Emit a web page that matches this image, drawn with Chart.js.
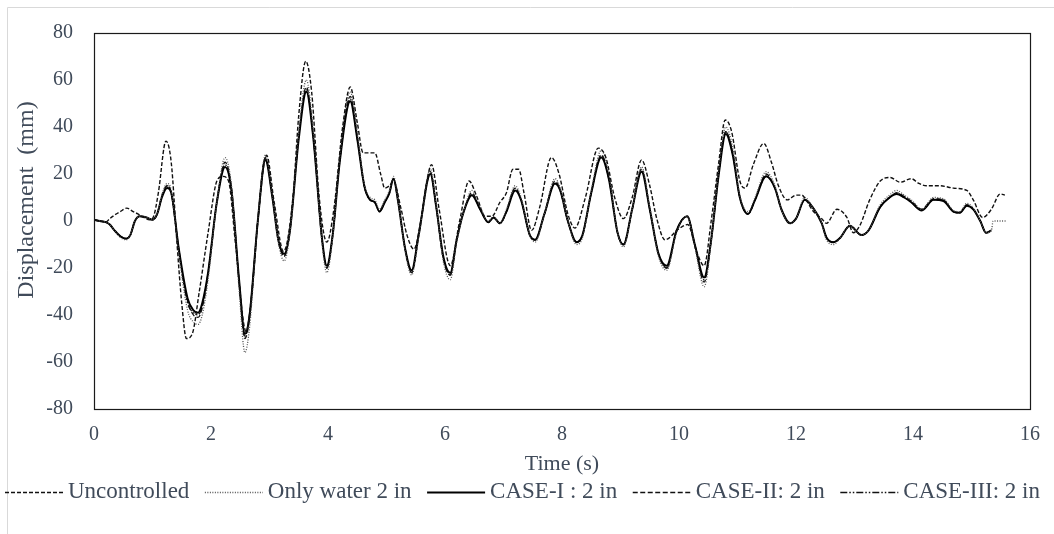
<!DOCTYPE html>
<html>
<head>
<meta charset="utf-8">
<script src="https://cdn.jsdelivr.net/npm/chart.js@4/dist/chart.umd.min.js"></script>
<style>
  html, body { margin: 0; padding: 0; background: #fff; }
  #wrap { position: relative; width: 1054px; height: 534px; }
</style>
</head>
<body>
<div id="wrap"><canvas id="c" width="1054" height="534"></canvas></div>
<script>
// ---- Data ----
const xTicks = [0, 2, 4, 6, 8, 10, 12, 14, 16];
const yTicks = [-80, -60, -40, -20, 0, 20, 40, 60, 80];

const seriesNames = ["Uncontrolled", "Only water 2 in", "CASE-I : 2 in", "CASE-II: 2 in", "CASE-III: 2 in"];

const tUncontrolled = [0,0.1,0.2,0.27,0.35,0.45,0.56,0.67,0.75,0.85,0.95,1.02,1.1,1.23,1.32,1.42,1.5,1.58,1.68,1.8,1.95,2.1,2.2,2.3,2.42,2.6,2.7,2.82,2.95,3.08,3.24,3.4,3.5,3.62,3.72,3.85,3.98,4.1,4.25,4.38,4.5,4.6,4.7,4.8,4.9,4.97,5.05,5.12,5.25,5.35,5.47,5.6,5.77,5.9,6.09,6.25,6.41,6.55,6.68,6.8,6.94,7.05,7.16,7.26,7.35,7.48,7.62,7.82,7.95,8.1,8.22,8.4,8.62,8.75,8.9,9.05,9.2,9.36,9.5,9.62,9.76,9.99,10.15,10.3,10.43,10.55,10.68,10.79,10.9,11.04,11.13,11.27,11.45,11.58,11.7,11.85,12.0,12.1,12.17,12.3,12.44,12.52,12.7,12.87,12.98,13.09,13.26,13.44,13.61,13.78,13.97,14.1,14.23,14.46,14.69,14.92,15.03,15.19,15.34,15.49,15.57];
const yUncontrolled = [0.5,0,-0.5,1,2.5,4,5.5,4,3,1.5,0.5,2,12,34,25,-10,-35,-50,-48,-30,-5,17,19,17,-10,-47,-30,5,28,8,-13,10,45,68,55,10,-9,5,40,57,42,29,29,29,20,14,15,17,5,-6,-12,2,24,5,-19,0,17,10,2,2,8,12,22,22,12,-4,6,27,20,3,-3,10,31,27,10,1,10,26,15,1,-8,-3.5,-1.5,-13,-19,0,25,43,38,17,14,24,33,25,15,9,11,11,9,4,1,-1,5,1.5,-5,-2,9,17,18.5,16.5,18,16,15,15,14,13,9,1.5,5,11.5,11];

const tCases = [0,0.1,0.2,0.27,0.35,0.45,0.55,0.62,0.7,0.78,0.9,1.0,1.08,1.16,1.25,1.32,1.45,1.6,1.7,1.78,1.85,1.95,2.1,2.24,2.35,2.48,2.58,2.66,2.8,2.93,3.05,3.15,3.25,3.35,3.5,3.63,3.75,3.9,3.98,4.08,4.2,4.38,4.5,4.62,4.72,4.8,4.88,4.97,5.05,5.12,5.2,5.32,5.43,5.55,5.75,5.85,5.97,6.09,6.2,6.32,6.46,6.6,6.74,6.83,6.94,7.05,7.2,7.3,7.45,7.54,7.7,7.88,7.97,8.1,8.25,8.35,8.5,8.67,8.8,8.95,9.05,9.2,9.36,9.5,9.65,9.79,9.96,10.14,10.27,10.43,10.55,10.68,10.8,10.92,11.04,11.18,11.3,11.49,11.64,11.75,11.9,12.0,12.15,12.28,12.44,12.52,12.64,12.76,12.92,13.12,13.24,13.44,13.6,13.72,13.85,13.97,14.15,14.35,14.52,14.69,14.8,14.92,15.03,15.15,15.25,15.34];

const yCaseI = [0.5,0,-0.5,-1.5,-4,-6.5,-7.5,-6,0,2,1.5,0.5,3,10,14,12,-12,-33,-38,-39,-35,-22,8,23,13,-25,-48,-40,0,26,10,-8,-14,-4,35,55,35,-8,-19,-6,25,51,35,15,9,8,4,8,12,18,8,-12,-21,-6,20,6,-15,-22,-8,4,11,5,-0.5,1.5,-1,4,13,9,-6,-8,3,16,13,0,-9,-6,12,27,18,-5,-10,5,21,5,-14,-19,-4,2,-10,-24,-8,20,37,28,10,3,9,19,14,5,-1,1,9,6,-1,-7,-9,-7,-2,-6,-4,6,10,11.5,10,8,4.5,9,8.5,4,3.5,6.5,5,0,-5,-4];

const tOnlyWater = tCases.concat([15.37, 15.6]);
const yOnlyWater = [0.5,0,-0.5,-1.5,-4,-7,-8,-6,0,2,1.5,0.5,3,11,16,13,-14,-38,-43,-44,-40,-25,8,27,15,-29,-56,-45,0,28,11,-9,-17,-5,38,60,38,-10,-22,-7,27,55,38,16,10,9,5,9,13,19,8,-13,-23,-7,22,7,-17,-25,-9,4,13,6,0,2,-1,5,15,10,-6,-9,3,18,14,0,-10,-7,13,30,20,-5,-11,5,23,6,-15,-21,-5,2,-11,-28,-9,22,40,31,11,4,10,21,15,5,-1,1,10,6,-1,-8,-10,-7,-2,-6,-4,7,11,13,11,9,5,10,9.5,4.5,4,7.5,5.5,0,-5,-4,0,0];

const yCaseII = [0.5,0,-0.5,-1.5,-4,-6.5,-7.5,-6,0,2,1.5,0.5,3,11,15,12,-12,-34,-40,-41,-37,-23,8,25,14,-26,-50,-41,0,27,10,-8,-15,-4,36,57,36,-9,-20,-6,26,53,36,15,9,8,4,8,12,18,8,-12,-22,-6,21,6,-16,-23,-8,4,12,5,-0.5,1.5,-1,4,14,9,-6,-8,3,17,13,0,-9,-6,12,28,19,-5,-10,5,22,5,-14,-20,-4,2,-10,-26,-8,21,38,29,10,3,9,20,14,5,-1,1,9,6,-1,-7,-9,-7,-2,-6,-4,6,10,12,10.5,8.5,5,9.5,9,4,3.5,7,5,0,-5,-4];

const yCaseIII = [0.5,0,-0.5,-1.5,-4,-6.5,-7.5,-6,0,2,1.5,0.5,3,10,15,12,-13,-35,-39,-40,-36,-22,8,24,13,-26,-49,-40,0,27,10,-8,-15,-4,36,56,35,-8,-20,-6,25,52,35,15,9,8,4,8,12,18,8,-12,-22,-6,20,6,-15,-23,-8,4,11,5,-0.5,1.5,-1,4,14,9,-6,-8,3,16,13,0,-9,-6,12,28,18,-5,-10,5,22,5,-14,-20,-4,2,-10,-25,-8,20,38,28,10,3,9,19,14,5,-1,1,9,6,-1,-7,-9,-7,-2,-6,-4,6,10,12,10,8,4.5,9,9,4,3.5,6.5,5,0,-5,-4];

// ---- Build the chart ----
function pts(t, y) { return t.map((v, i) => ({ x: v, y: y[i] })); }

const textColor = '#404b5a';
const serif = "'Liberation Serif', 'Times New Roman', serif";

const decor = {
  id: 'decor',
  beforeDraw(chart) {
    const ctx = chart.ctx;
    ctx.save();
    ctx.strokeStyle = '#d9d9d9';
    ctx.lineWidth = 1;
    ctx.beginPath();
    ctx.moveTo(7.5, 534); ctx.lineTo(7.5, 7.5); ctx.lineTo(1054, 7.5);
    ctx.stroke();
    ctx.restore();
  },
  afterDatasetsDraw(chart) {
    const a = chart.chartArea, ctx = chart.ctx;
    ctx.save();
    ctx.strokeStyle = '#1a1a1a';
    ctx.lineWidth = 1.2;
    ctx.strokeRect(Math.round(a.left) + 0.5, Math.round(a.top) + 0.5, Math.round(a.right - a.left), Math.round(a.bottom - a.top));
    ctx.restore();
  },
  afterDraw(chart) {
    const ctx = chart.ctx;
    ctx.save();
    // y-axis title
    ctx.fillStyle = textColor;
    ctx.font = "24px " + serif;
    ctx.textAlign = 'center';
    ctx.textBaseline = 'middle';
    ctx.translate(27, 200);
    ctx.rotate(-Math.PI / 2);
    ctx.fillText('Displacement  (mm)', 0, 0);
    ctx.restore();

    // legend (line samples with their dash patterns)
    ctx.save();
    ctx.font = "23px " + serif;
    ctx.textBaseline = 'middle';
    ctx.textAlign = 'left';
    const sample = 58, gapText = 5;
    const items = chart.data.datasets.map(ds => ({ ds, w: sample + gapText + ctx.measureText(ds.label).width }));
    const total = items.reduce((s, it) => s + it.w, 0);
    const startX = 5, endX = 1040;
    const gap = (endX - startX - total) / (items.length - 1);
    let x = startX;
    const yMid = 492;
    items.forEach(it => {
      const ds = it.ds;
      ctx.save();
      ctx.strokeStyle = ds.borderColor;
      ctx.lineWidth = ds.borderWidth;
      ctx.setLineDash(ds.borderDash || []);
      ctx.beginPath();
      ctx.moveTo(x, yMid + 0.5);
      ctx.lineTo(x + sample, yMid + 0.5);
      ctx.stroke();
      ctx.restore();
      ctx.fillStyle = textColor;
      ctx.fillText(ds.label, x + sample + gapText, yMid);
      x += it.w + gap;
    });
    ctx.restore();
  }
};

const common = { pointRadius: 0, fill: false, backgroundColor: 'transparent', cubicInterpolationMode: 'monotone' };

new Chart(document.getElementById('c'), {
  type: 'line',
  data: {
    datasets: [
      Object.assign({ label: seriesNames[0], data: pts(tUncontrolled, yUncontrolled), borderColor: '#111', borderWidth: 1.4, borderDash: [4, 2] }, common),
      Object.assign({ label: seriesNames[1], data: pts(tOnlyWater, yOnlyWater), borderColor: '#555', borderWidth: 1.3, borderDash: [1, 1.5] }, common),
      Object.assign({ label: seriesNames[2], data: pts(tCases, yCaseI), borderColor: '#000', borderWidth: 2 }, common),
      Object.assign({ label: seriesNames[3], data: pts(tCases, yCaseII), borderColor: '#111', borderWidth: 1.3, borderDash: [5, 2.5] }, common),
      Object.assign({ label: seriesNames[4], data: pts(tCases, yCaseIII), borderColor: '#111', borderWidth: 1.3, borderDash: [7, 2, 1.5, 2, 1.5, 2] }, common)
    ]
  },
  options: {
    responsive: false,
    animation: false,
    layout: { padding: { top: 33, right: 24, left: 4, bottom: 57 } },
    plugins: {
      tooltip: { enabled: false },
      legend: { display: false }
    },
    scales: {
      x: {
        type: 'linear',
        min: 0, max: 16,
        afterBuildTicks(scale) { scale.ticks = xTicks.map(v => ({ value: v })); },
        grid: { display: false, drawTicks: false },
        border: { display: true, color: '#1a1a1a' },
        ticks: { color: textColor, padding: 14, maxRotation: 0, font: { family: serif, size: 20 } },
        title: { display: true, text: 'Time (s)', color: textColor, padding: { top: 6, bottom: 0 }, font: { family: serif, size: 22 } },
        afterFit(scale) { scale.height = 68; }
      },
      y: {
        type: 'linear',
        min: -80, max: 80,
        afterBuildTicks(scale) { scale.ticks = yTicks.map(v => ({ value: v })); },
        grid: { display: false, drawTicks: false },
        border: { display: true, color: '#1a1a1a' },
        ticks: { color: textColor, padding: 21, font: { family: serif, size: 20 } },
        afterFit(scale) { scale.width = 90; }
      }
    }
  },
  plugins: [decor]
});
</script>
</body>
</html>
